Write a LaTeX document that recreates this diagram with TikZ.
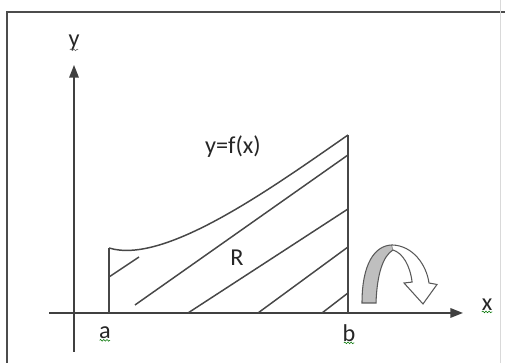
\documentclass[tikz,border=0pt]{standalone}
\usepackage{fontspec}
\setmainfont{Carlito}
\usetikzlibrary{arrows.meta,decorations.pathmorphing}
\tikzset{
	lbl/.style={text=black!85, font=\fontsize{23}{27}\selectfont, inner sep=1pt},
	axis/.style={line width=1.6pt, draw=black!75, -{Triangle[length=12pt,width=9pt]}},
	edge/.style={line width=1.4pt, draw=black!72},
	squiggle/.style={draw=green!45!black, line width=0.5pt, decorate,
		decoration={snake, amplitude=0.8pt, segment length=3pt}},
}

\begin{document}
\begin{tikzpicture}
		\useasboundingbox (-2.467,-1.667) rectangle (14.367,10.433);
		\draw[line width=1pt, black!70] (-2.233,-1.667)--(-2.233,10.033)--(14.367,10.033);
		\draw[black!15] (14.2,10.433)--(14.2,-1.667);
		\coordinate (O) at (0,0);
		\coordinate (Y0) at (0,-1.3);
		\coordinate (Y1) at (0,8.267);
		\coordinate (X0) at (-0.833,0);
		\coordinate (X1) at (12.967,0);
		\coordinate (A) at (1.167,0);
		\coordinate (A1) at (1.167,2.167);
		\coordinate (B) at (9.133,0);
		\coordinate (B1) at (9.133,5.933);
		\draw[axis] (Y0)--(Y1);
		\draw[axis] (X0)--(X1);
		\draw[edge] (A)--(A1);
		\draw[edge] (B)--(B1);
		\draw[edge] (A1) .. controls (3.0,1.6) and (6.5,4.1) .. (B1);
		\draw[edge] (1.167,1.2)--(2.167,1.867);
		\draw[edge] (2.033,0.267)--(9.133,5.267);
		\draw[edge] (3.8,0)--(9.133,3.467);
		\draw[edge] (6.133,0)--(9.133,2.2);
		\draw[edge] (8.267,0)--(9.133,0.667);
		\node[lbl] (ylab) at (0,9.0) {y};
		\node[lbl] (xlab) at (13.77,0.27) {x};
		\node[lbl] (alab) at (1.03,-0.67) {a};
		\node[lbl] (blab) at (9.17,-0.67) {b};
		\node[lbl] (flab) at (5.3,5.533) {y=f(x)};
		\node[lbl] (rlab) at (5.433,1.833) {R};
		\draw[squiggle] ([xshift=-5pt]alab.south)--([xshift=5pt]alab.south);
		\draw[squiggle] ([xshift=-5pt]blab.south)--([xshift=5pt]blab.south);
		\draw[squiggle] ([xshift=-5pt]xlab.south)--([xshift=5pt]xlab.south);
		\draw[squiggle, draw=black!60] ([xshift=-4pt,yshift=2pt]ylab.south)--([xshift=4pt,yshift=2pt]ylab.south);
		\filldraw[fill=black!25, draw=black!65, line width=1pt] (9.6,0.333)
			.. controls (9.6,1.6) and (10.0,2.25) .. (10.6,2.267)
			-- (10.633,2.1)
			.. controls (10.3,1.9) and (10.1,1.3) .. (10.067,0.333) -- cycle;
		\filldraw[fill=white, draw=black!65, line width=1pt] (10.6,2.267)
			.. controls (11.3,2.25) and (11.75,1.6) .. (11.833,1.0)
			-- (12.1,0.95) -- (11.633,0.3) -- (11.0,1.0) -- (11.27,1.03)
			.. controls (11.2,1.6) and (10.95,2.0) .. (10.633,2.1);
	\end{tikzpicture}
\end{document}
